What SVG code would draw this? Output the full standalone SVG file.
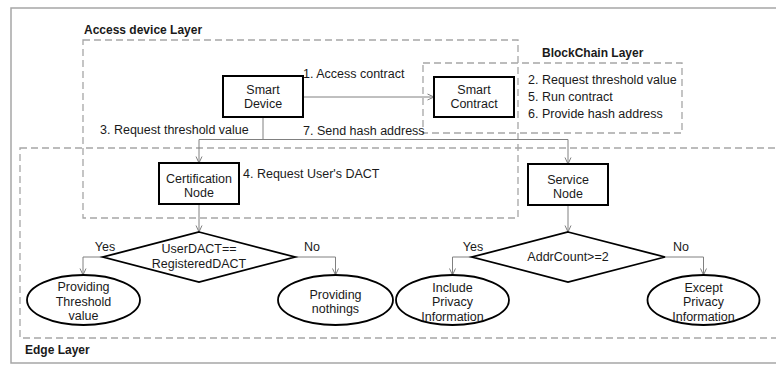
<svg xmlns="http://www.w3.org/2000/svg" width="776" height="365" viewBox="0 0 776 365">
<defs>
<marker id="arr" viewBox="0 0 8 8" refX="7.5" refY="4" markerWidth="8" markerHeight="8" markerUnits="userSpaceOnUse" orient="auto">
<path d="M1,1 L7.5,4 L1,7" fill="none" stroke="#808080" stroke-width="1"/>
</marker>
<style>
text{font-family:"Liberation Sans",Arial,sans-serif;font-size:12.5px;fill:#1a1a1a}
.t{font-weight:bold;font-size:12px}
.c{text-anchor:middle}
.layer{fill:none;stroke:#a6a6a6;stroke-width:1.3;stroke-dasharray:7 4}
.box{fill:#fff;stroke:#000;stroke-width:2}
.shape{fill:#fff;stroke:#000;stroke-width:1.8}
.ln{fill:none;stroke:#808080;stroke-width:1}
.ar{marker-end:url(#arr)}
</style>
</defs>
<rect x="11" y="8" width="800" height="355" fill="#fff" stroke="#a6a6a6" stroke-width="1.5"/>
<g id="layers">
<rect class="layer" x="83" y="40" width="435" height="178"/>
<rect class="layer" x="423" y="63" width="259" height="70"/>
<rect class="layer" x="20" y="148" width="790" height="190"/>
<text class="t" x="84" y="34">Access device Layer</text>
<text class="t" x="542" y="57">BlockChain Layer</text>
<text class="t" x="25" y="354">Edge Layer</text>
</g>
<g id="connectors">
<path class="ln ar" d="M303,97 H434"/>
<path class="ln" d="M263,117 V139.5 M199,139.5 H568"/>
<path class="ln ar" d="M199,139.5 V163"/>
<path class="ln ar" d="M568,139.5 V164"/>
<path class="ln ar" d="M199,204 V232"/>
<path class="ln ar" d="M568,205 V232"/>
<path class="ln ar" d="M103,257 H83 V275"/>
<path class="ln ar" d="M295,257 H335.5 V275"/>
<path class="ln ar" d="M472,257 H452.5 V275"/>
<path class="ln ar" d="M665,257 H703.5 V275"/>
<text x="303" y="78">1. Access contract</text>
<text x="528" y="84">2. Request threshold value</text>
<text x="528" y="101">5. Run contract</text>
<text x="528" y="118">6. Provide hash address</text>
<text x="100" y="134">3. Request threshold value</text>
<text x="303" y="135">7. Send hash address</text>
<text x="243" y="178">4. Request User's DACT</text>
<text class="c" x="105" y="251">Yes</text>
<text class="c" x="312" y="251">No</text>
<text class="c" x="473" y="251">Yes</text>
<text class="c" x="681" y="251">No</text>
</g>
<g id="smart-device">
<rect class="box" x="223" y="76" width="80" height="41"/>
<text class="c" x="263" y="94">Smart</text>
<text class="c" x="263" y="108">Device</text>
</g>
<g id="smart-contract">
<rect class="box" x="434" y="77" width="80" height="40"/>
<text class="c" x="474" y="94">Smart</text>
<text class="c" x="474" y="108">Contract</text>
</g>
<g id="certification-node">
<rect class="box" x="159" y="163" width="80" height="41"/>
<text class="c" x="199" y="183">Certification</text>
<text class="c" x="199" y="197">Node</text>
</g>
<g id="service-node">
<rect class="box" x="528" y="164" width="80" height="41"/>
<text class="c" x="568" y="184">Service</text>
<text class="c" x="568" y="198">Node</text>
</g>
<g id="decision-dact">
<polygon class="shape" points="199,232 295,257 199,282 103,257"/>
<text class="c" x="199" y="253">UserDACT==</text>
<text class="c" x="199" y="268">RegisteredDACT</text>
</g>
<g id="decision-addr">
<polygon class="shape" points="568,232 665,257 568,282 472,257"/>
<text class="c" x="568" y="261">AddrCount&gt;=2</text>
</g>
<g id="providing-threshold">
<ellipse class="shape" cx="83.5" cy="300" rx="56.5" ry="25"/>
<text class="c" x="83.5" y="291">Providing</text>
<text class="c" x="83.5" y="306">Threshold</text>
<text class="c" x="83.5" y="320">value</text>
</g>
<g id="providing-nothings">
<ellipse class="shape" cx="335.5" cy="300" rx="57.5" ry="25"/>
<text class="c" x="335.5" y="299">Providing</text>
<text class="c" x="335.5" y="313">nothings</text>
</g>
<g id="include-privacy">
<ellipse class="shape" cx="452.5" cy="300" rx="56.5" ry="25"/>
<text class="c" x="452.5" y="292">Include</text>
<text class="c" x="452.5" y="306">Privacy</text>
<text class="c" x="452.5" y="321">Information</text>
</g>
<g id="except-privacy">
<ellipse class="shape" cx="703.5" cy="300" rx="56" ry="25"/>
<text class="c" x="703.5" y="292">Except</text>
<text class="c" x="703.5" y="306">Privacy</text>
<text class="c" x="703.5" y="321">Information</text>
</g>
</svg>
